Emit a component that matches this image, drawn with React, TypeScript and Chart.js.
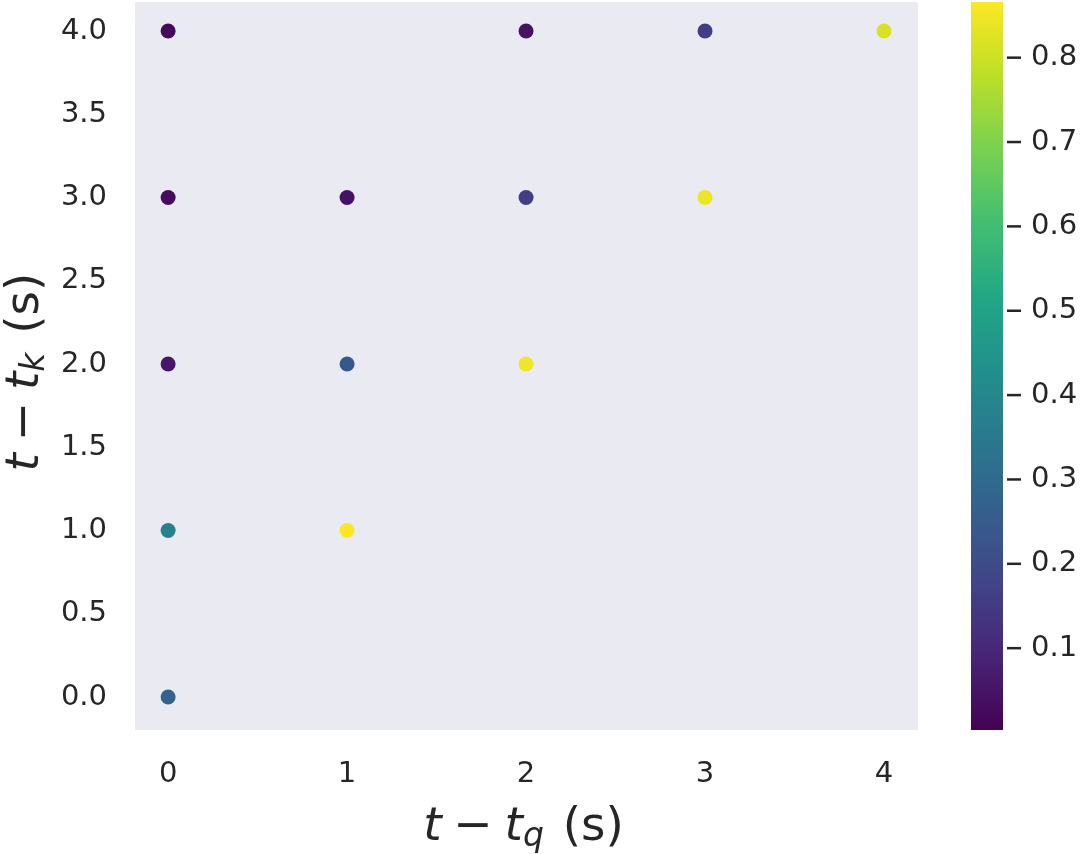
import React, { useEffect, useRef } from "react";
import { Chart, registerables } from "chart.js";
Chart.register(...registerables);

// t - t_q (x), t - t_k (y), attention value (colour)
const tqValues = [0, 0, 0, 0, 0, 1, 1, 1, 2, 2, 2, 3, 3, 4];
const tkValues = [0, 1, 2, 3, 4, 1, 2, 3, 2, 3, 4, 3, 4, 4];
const attention = [0.27, 0.38, 0.06, 0.03, 0.025, 0.866, 0.24, 0.045, 0.85, 0.16, 0.045, 0.84, 0.16, 0.815];

const xTicks = [0, 1, 2, 3, 4];
const xTickLabels = ["0", "1", "2", "3", "4"];
const yTicks = [0, 0.5, 1, 1.5, 2, 2.5, 3, 3.5, 4];
const yTickLabels = ["0.0", "0.5", "1.0", "1.5", "2.0", "2.5", "3.0", "3.5", "4.0"];
const cbarTicks = [0.1, 0.2, 0.3, 0.4, 0.5, 0.6, 0.7, 0.8];
const cbarTickLabels = ["0.1", "0.2", "0.3", "0.4", "0.5", "0.6", "0.7", "0.8"];
const cbarMin = 0.003;
const cbarMax = 0.866;

const viridis = ["#440154", "#482475", "#414487", "#355f8d", "#2a788e", "#21918c", "#22a884", "#44bf70", "#7ad151", "#bddf26", "#fde725"];

function hexToRgb(h: string) {
  return [parseInt(h.slice(1, 3), 16), parseInt(h.slice(3, 5), 16), parseInt(h.slice(5, 7), 16)];
}
function viridisColor(v: number) {
  let t = (v - cbarMin) / (cbarMax - cbarMin);
  t = Math.max(0, Math.min(1, t));
  const pos = t * (viridis.length - 1);
  const i = Math.min(viridis.length - 2, Math.floor(pos));
  const f = pos - i;
  const a = hexToRgb(viridis[i]);
  const b = hexToRgb(viridis[i + 1]);
  const c = a.map((x, k) => Math.round(x + (b[k] - x) * f));
  return `rgb(${c[0]},${c[1]},${c[2]})`;
}

type Part = { text: string; italic?: boolean; sub?: boolean; gap?: number };
const xTitle: Part[] = [
  { text: "t", italic: true },
  { text: "\u2212", gap: 0.25 },
  { text: "t", italic: true, gap: 0.25 },
  { text: "q", italic: true, sub: true },
  { text: "(s)", gap: 0.4 },
];
const yTitle: Part[] = [
  { text: "t", italic: true },
  { text: "\u2212", gap: 0.25 },
  { text: "t", italic: true, gap: 0.25 },
  { text: "k", italic: true, sub: true },
  { text: "(s)", gap: 0.4 },
];

const TEXT = "#262626";
const FAMILY = "'DejaVu Sans'";
const TITLE_SIZE = 47;
const TICK_SIZE = 29;

function drawMath(ctx: CanvasRenderingContext2D, parts: Part[], size: number) {
  const fontFor = (p: Part) => `${p.italic ? "oblique " : ""}${p.sub ? Math.round(size * 0.7) : size}px ${FAMILY}`;
  let total = 0;
  const offs: number[] = [];
  parts.forEach((p) => {
    ctx.font = fontFor(p);
    total += (p.gap || 0) * size;
    offs.push(total);
    total += ctx.measureText(p.text).width;
  });
  ctx.textBaseline = "alphabetic";
  ctx.textAlign = "left";
  parts.forEach((p, i) => {
    ctx.font = fontFor(p);
    ctx.fillText(p.text, offs[i] - total / 2, p.sub ? size * 0.12 : 0);
  });
}

const overlay = {
  id: "overlay",
  beforeDraw(chart: any) {
    const { ctx, chartArea } = chart;
    ctx.save();
    ctx.fillStyle = "#eaeaf2";
    ctx.fillRect(chartArea.left, chartArea.top, chartArea.right - chartArea.left, chartArea.bottom - chartArea.top);
    ctx.restore();
  },
  afterDraw(chart: any) {
    const { ctx, chartArea } = chart;
    const y2 = chart.scales.y2;
    ctx.save();
    // colorbar
    const bx = chartArea.right + 53;
    const bw = 32;
    const top = y2.getPixelForValue(cbarMax);
    const bottom = y2.getPixelForValue(cbarMin);
    const g = ctx.createLinearGradient(0, bottom, 0, top);
    viridis.forEach((c, i) => g.addColorStop(i / (viridis.length - 1), c));
    ctx.fillStyle = g;
    ctx.fillRect(bx, top, bw, bottom - top);
    // colorbar tick dashes
    ctx.strokeStyle = TEXT;
    ctx.lineWidth = 2.5;
    cbarTicks.forEach((v) => {
      const y = y2.getPixelForValue(v);
      ctx.beginPath();
      ctx.moveTo(bx + bw + 4, y);
      ctx.lineTo(bx + bw + 18, y);
      ctx.stroke();
    });
    // axis titles
    ctx.fillStyle = TEXT;
    ctx.save();
    ctx.translate((chartArea.left + chartArea.right) / 2 - 3, 840);
    drawMath(ctx, xTitle, TITLE_SIZE);
    ctx.restore();
    ctx.save();
    ctx.translate(38, (chartArea.top + chartArea.bottom) / 2 + 6);
    ctx.rotate(-Math.PI / 2);
    drawMath(ctx, yTitle, TITLE_SIZE);
    ctx.restore();
    ctx.restore();
  },
};

export default function App() {
  const ref = useRef<HTMLCanvasElement>(null);
  useEffect(() => {
    if (!ref.current) return;
    Chart.defaults.font.family = FAMILY;
    const points = tqValues.map((x, i) => ({ x, y: tkValues[i] }));
    const colors = attention.map((v) => viridisColor(v));
    const tickFont = { size: TICK_SIZE, family: FAMILY };
    const chart = new Chart(ref.current, {
      type: "scatter",
      data: {
        datasets: [
          {
            data: points,
            backgroundColor: colors,
            borderColor: colors,
            borderWidth: 0,
            pointRadius: 7.5,
            pointHoverRadius: 7.5,
          },
        ],
      },
      options: {
        responsive: false,
        animation: false,
        events: [],
        layout: { autoPadding: false, padding: { top: 2, left: 0, right: 0, bottom: 0 } },
        plugins: { legend: { display: false }, tooltip: { enabled: false } },
        scales: {
          x: {
            type: "linear",
            min: -0.185,
            max: 4.19,
            grid: { display: false, drawTicks: false },
            border: { display: false },
            afterBuildTicks: (s: any) => {
              s.ticks = xTicks.map((v) => ({ value: v }));
            },
            afterFit: (s: any) => {
              s.height = 124;
              s.paddingLeft = 0;
              s.paddingRight = 0;
            },
            ticks: {
              padding: 27,
              color: TEXT,
              font: tickFont,
              maxRotation: 0,
              callback: (_v: any, i: number) => xTickLabels[i],
            },
          },
          y: {
            type: "linear",
            position: "left",
            min: -0.198,
            max: 4.174,
            grid: { display: false, drawTicks: false },
            border: { display: false },
            afterBuildTicks: (s: any) => {
              s.ticks = yTicks.map((v) => ({ value: v }));
            },
            afterFit: (s: any) => {
              s.width = 135;
              s.paddingTop = 0;
              s.paddingBottom = 0;
            },
            ticks: {
              padding: 28,
              color: TEXT,
              font: tickFont,
              callback: (_v: any, i: number) => yTickLabels[i],
            },
          },
          y2: {
            type: "linear",
            position: "right",
            min: cbarMin,
            max: cbarMax,
            grid: { display: false, drawTicks: false },
            border: { display: false },
            afterBuildTicks: (s: any) => {
              s.ticks = cbarTicks.map((v) => ({ value: v }));
            },
            afterFit: (s: any) => {
              s.width = 162;
              s.paddingTop = 0;
              s.paddingBottom = 0;
            },
            ticks: {
              padding: 113,
              color: TEXT,
              font: tickFont,
              callback: (_v: any, i: number) => cbarTickLabels[i],
            },
          },
        },
      },
      plugins: [overlay],
    });
    return () => chart.destroy();
  }, []);
  return (
    <div style={{ position: "absolute", left: 0, top: 0, width: 1080, height: 854, background: "#fff" }}>
      <canvas ref={ref} width={1080} height={854} style={{ display: "block" }} />
    </div>
  );
}
